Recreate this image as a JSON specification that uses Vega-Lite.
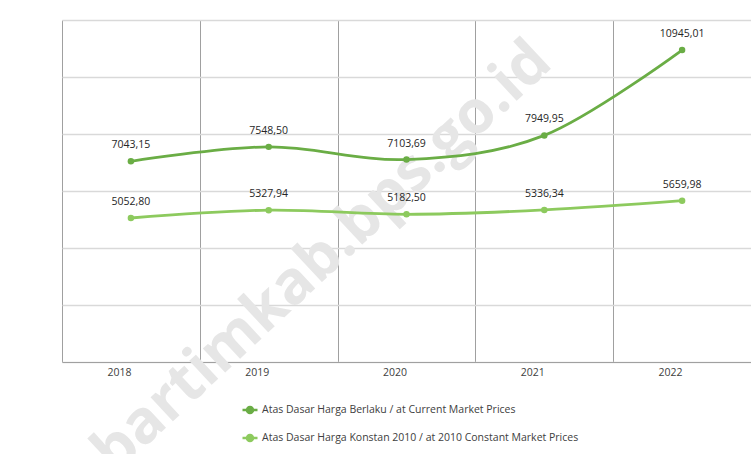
{
  "$schema": "https://vega.github.io/schema/vega-lite/v6.json",
  "width": 689,
  "height": 342,
  "autosize": {"type": "none"},
  "padding": {"left": 62, "top": 20, "right": 0, "bottom": 92},
  "config": {
    "locale": {"number": {"decimal": ",", "thousands": ".", "grouping": [3], "currency": ["", ""]}},
    "view": {"stroke": null},
    "font": "Open Sans"
  },
  "data": {
    "values": [
      {"year": "2018", "series": "Atas Dasar Harga Berlaku /  at Current Market Prices", "value": 7043.15},
      {"year": "2019", "series": "Atas Dasar Harga Berlaku /  at Current Market Prices", "value": 7548.50},
      {"year": "2020", "series": "Atas Dasar Harga Berlaku /  at Current Market Prices", "value": 7103.69},
      {"year": "2021", "series": "Atas Dasar Harga Berlaku /  at Current Market Prices", "value": 7949.95},
      {"year": "2022", "series": "Atas Dasar Harga Berlaku /  at Current Market Prices", "value": 10945.01},
      {"year": "2018", "series": "Atas Dasar Harga Konstan 2010 / at 2010 Constant Market Prices", "value": 5052.80},
      {"year": "2019", "series": "Atas Dasar Harga Konstan 2010 / at 2010 Constant Market Prices", "value": 5327.94},
      {"year": "2020", "series": "Atas Dasar Harga Konstan 2010 / at 2010 Constant Market Prices", "value": 5182.50},
      {"year": "2021", "series": "Atas Dasar Harga Konstan 2010 / at 2010 Constant Market Prices", "value": 5336.34},
      {"year": "2022", "series": "Atas Dasar Harga Konstan 2010 / at 2010 Constant Market Prices", "value": 5659.98}
    ]
  },
  "layer": [
    {
      "data": {"values": [{"wm": "bartimkab.bps.go.id"}]},
      "mark": {"type": "text", "angle": -43, "fontSize": 60, "fontWeight": "bold", "color": "#e6e6e6", "font": "Open Sans", "align": "center", "baseline": "middle"},
      "encoding": {
        "x": {"datum": "2019", "type": "ordinal", "bandPosition": 0.89},
        "y": {"datum": 3680, "type": "quantitative"},
        "text": {"field": "wm"}
      }
    },
    {
      "mark": {"type": "line", "interpolate": "cardinal", "strokeWidth": 2.8},
      "encoding": {
        "x": {
          "field": "year", "type": "ordinal",
          "scale": {"paddingInner": 0, "paddingOuter": 0},
          "axis": {"title": null, "tickBand": "extent", "grid": true, "gridColor": "#a0a0a0", "gridWidth": 1, "ticks": false, "domainColor": "#a0a0a0", "domainWidth": 1, "labelAngle": 0, "labelPadding": 10, "labelFontSize": 10.5, "labelColor": "#404040", "labelFont": "Open Sans"}
        },
        "y": {
          "field": "value", "type": "quantitative",
          "scale": {"domain": [0, 12000], "nice": false},
          "axis": {"title": null, "labels": false, "ticks": false, "domain": false, "grid": true, "gridColor": "#d9d9d9", "gridWidth": 1.5, "values": [0, 2000, 4000, 6000, 8000, 10000, 12000]}
        },
        "color": {
          "field": "series", "type": "nominal",
          "scale": {
            "domain": ["Atas Dasar Harga Berlaku /  at Current Market Prices", "Atas Dasar Harga Konstan 2010 / at 2010 Constant Market Prices"],
            "range": ["#6aad45", "#8dca5e"]
          },
          "legend": {
            "title": null, "orient": "none", "legendX": 179, "legendY": 381,
            "direction": "vertical",
            "symbolType": "M-1,0L1,0M-0.4,0A0.4,0.4,0,1,1,0.4,0A0.4,0.4,0,1,1,-0.4,0Z",
            "symbolSize": 225, "symbolStrokeWidth": 2.5,
            "labelFontSize": 10.5, "labelColor": "#404040", "labelFont": "Open Sans", "labelLimit": 0,
            "rowPadding": 11, "labelOffset": 3
          }
        }
      }
    },
    {
      "mark": {"type": "point", "filled": true, "size": 42, "opacity": 1},
      "encoding": {
        "x": {"field": "year", "type": "ordinal"},
        "y": {"field": "value", "type": "quantitative"},
        "color": {"field": "series", "type": "nominal"}
      }
    },
    {
      "mark": {"type": "text", "dy": -16, "fontSize": 10.5, "color": "#262626", "font": "Open Sans", "baseline": "middle"},
      "encoding": {
        "x": {"field": "year", "type": "ordinal"},
        "y": {"field": "value", "type": "quantitative"},
        "text": {"field": "value", "type": "quantitative", "format": ".2f"}
      }
    }
  ]
}
